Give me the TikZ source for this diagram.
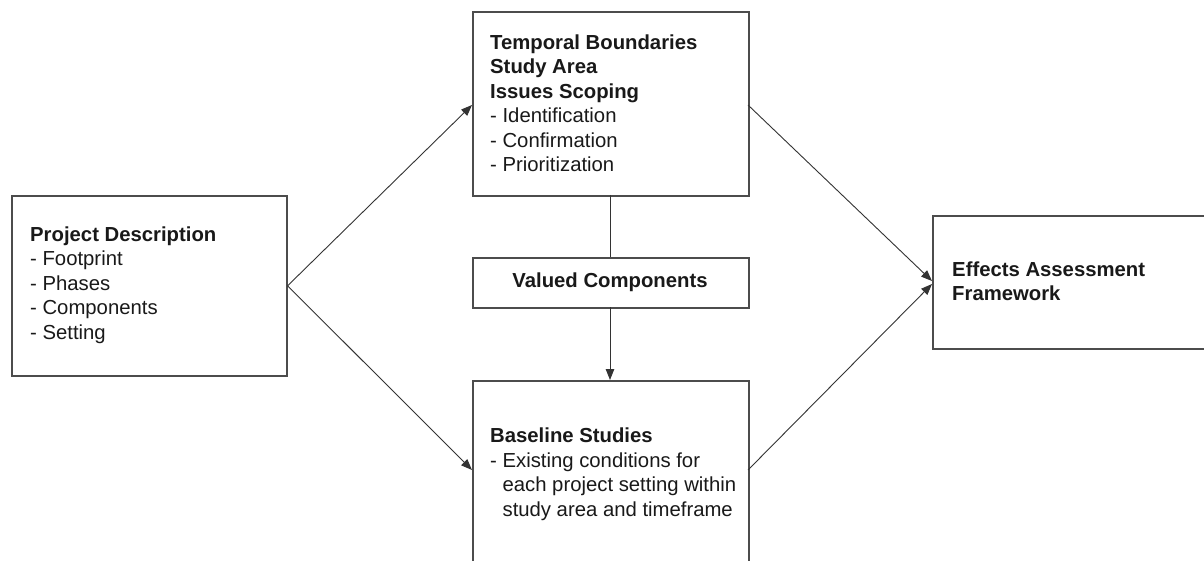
\documentclass[tikz,border=0pt]{standalone}
\usepackage{fontspec}
\setmainfont{Liberation Sans}
\usetikzlibrary{arrows.meta}
\tikzset{
  boxline/.style={draw=black!70, line width=1.6pt},
  conn/.style={draw=black!80, line width=0.9pt},
  arr/.style={conn, -{Triangle[length=11pt,width=8.5pt]}},
  txt/.style={anchor=west, align=left, inner sep=0pt, font=\fontsize{20.3}{24.5}\selectfont, text=black!90},
}
\begin{document}
\begin{tikzpicture}[x=1pt,y=-1pt]
\clip (0,0) rectangle (1204,561);
\fill[white] (0,0) rectangle (1204,561);
% boxes
\node[boxline, rectangle, minimum width=275pt, minimum height=180pt, anchor=north west, inner sep=0pt] (pd) at (11,195) {};
\node[boxline, rectangle, minimum width=276pt, minimum height=184pt, anchor=north west, inner sep=0pt] (tb) at (472,11) {};
\node[boxline, rectangle, minimum width=276pt, minimum height=50pt, anchor=north west, inner sep=0pt] (vc) at (472,257) {};
\node[boxline, rectangle, minimum width=276pt, minimum height=240pt, anchor=north west, inner sep=0pt] (bs) at (472,380) {};
\node[boxline, rectangle, minimum width=300pt, minimum height=133pt, anchor=north west, inner sep=0pt] (ea) at (932,215) {};
% texts
\node[txt] (pdt) at (30,285) {\textbf{Project Description}\\- Footprint\\- Phases\\- Components\\- Setting};
\node[txt] (tbt) at (490,103) {\textbf{Temporal Boundaries}\\\textbf{Study Area}\\\textbf{Issues Scoping}\\- Identification\\- Confirmation\\- Prioritization};
\node[txt, anchor=center] (vct) at (610,282) {\textbf{Valued Components}};
\node[txt] (bst) at (490,474) {\textbf{Baseline Studies}\\- Existing conditions for\\\phantom{- }each project setting within\\\phantom{- }study area and timeframe};
\node[txt] (eat) at (952,281) {\textbf{Effects Assessment}\\\textbf{Framework}};
% connectors
\coordinate (tbin) at (472,105);
\coordinate (bsin) at (472,470);
\coordinate (eain1) at (932,281);
\coordinate (eain2) at (932,284);
\coordinate (tbout) at (748,105);
\coordinate (bsout) at (748,470);
\coordinate (tbbot) at (610,195);
\coordinate (vctop) at (610,257);
\coordinate (vcbot) at (610,307);
\coordinate (bstop) at (610,380);
\draw[arr] (pd.east) -- (tbin);
\draw[arr] (pd.east) -- (bsin);
\draw[conn] (tbbot) -- (vctop);
\draw[arr] (vcbot) -- (bstop);
\draw[arr] (tbout) -- (eain1);
\draw[arr] (bsout) -- (eain2);
\end{tikzpicture}
\end{document}
